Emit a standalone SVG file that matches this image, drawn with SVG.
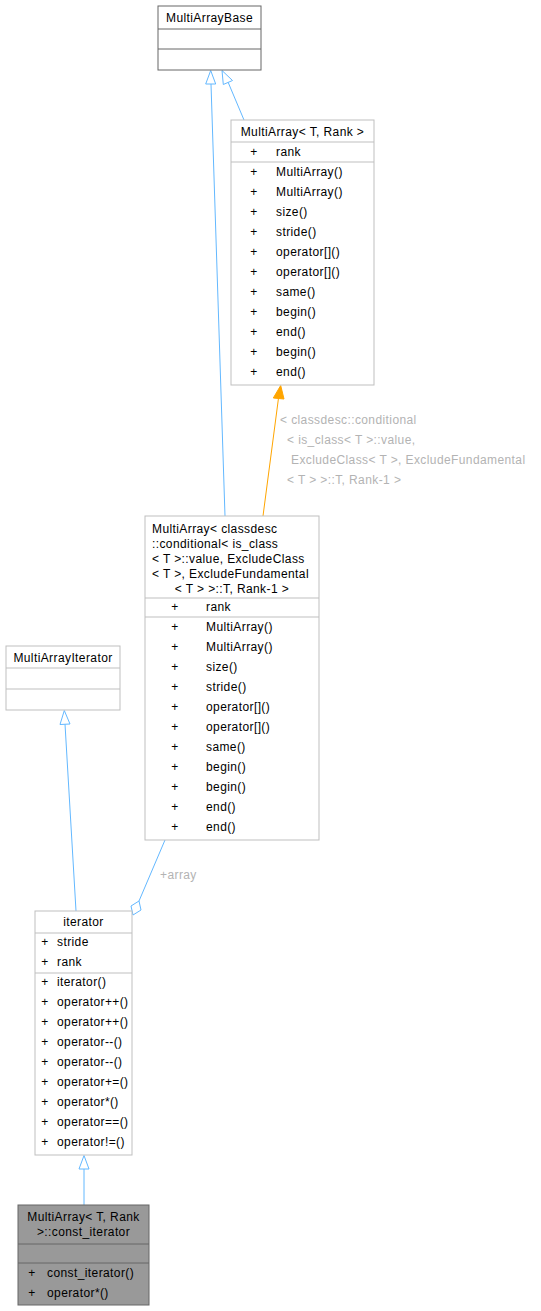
<svg xmlns="http://www.w3.org/2000/svg" width="541" height="1311" viewBox="0 0 541 1311">
<style>
text{font-family:"Liberation Sans",Arial,Helvetica,sans-serif;font-size:12px;letter-spacing:0.4px;fill:#000}
.box{fill:#fff;stroke:#bfbfbf;stroke-width:1}
.dark{fill:#fff;stroke:#666;stroke-width:1}
.cur{fill:#999;stroke:#666;stroke-width:1}
.sep{stroke:#bfbfbf;stroke-width:1}
.sepd{stroke:#666;stroke-width:1}
.c{text-anchor:middle}
.lbl{fill:#b3b3b3}
.inh{stroke:#63b8ff;stroke-width:1;fill:none}
.tpl{stroke:#ffa500;stroke-width:1;fill:none}
</style>
<g id="connectors">
<line class="inh" x1="225" y1="516" x2="211" y2="84"/>
<path d="M210.7,70.5 L215.7,84 L205.7,84 Z" fill="#fff" stroke="#63b8ff"/>
<line class="inh" x1="244" y1="120" x2="228" y2="82"/>
<path d="M222,70.5 L232.5,80.5 L223.3,84.5 Z" fill="#fff" stroke="#63b8ff"/>
<line class="tpl" x1="263" y1="516" x2="278.5" y2="398"/>
<path d="M280.7,385.5 L284,399 L273.3,398 Z" fill="#ffa500" stroke="#ffa500"/>
<line class="inh" x1="76" y1="911" x2="65" y2="724"/>
<path d="M64.3,710.5 L70,724 L60,724.5 Z" fill="#fff" stroke="#63b8ff"/>
<line class="inh" x1="84" y1="1205" x2="84" y2="1169"/>
<path d="M84,1155.5 L89,1169 L79,1169 Z" fill="#fff" stroke="#63b8ff"/>
<line class="inh" x1="165" y1="840" x2="139" y2="901"/>
<path d="M139,901 L141,910 L133,915 L131,906 Z" fill="#fff" stroke="#63b8ff"/>
<text class="lbl" x="280" y="424">&lt; classdesc::conditional</text>
<text class="lbl" x="287" y="444">&lt; is_class&lt; T &gt;::value,</text>
<text class="lbl" x="291" y="464">ExcludeClass&lt; T &gt;, ExcludeFundamental</text>
<text class="lbl" x="287" y="484">&lt; T &gt; &gt;::T, Rank-1 &gt;</text>
<text class="lbl" x="160" y="879">+array</text>
</g>
<g id="MultiArrayBase">
<rect class="dark" x="158" y="6" width="103" height="64"/>
<line class="sepd" x1="158" y1="29" x2="261" y2="29"/>
<line class="sepd" x1="158" y1="49" x2="261" y2="49"/>
<text class="c" x="209.5" y="22">MultiArrayBase</text>
</g>
<g id="MultiArrayTRank">
<rect class="box" x="231" y="120" width="143" height="265"/>
<line class="sep" x1="231" y1="142" x2="374" y2="142"/>
<line class="sep" x1="231" y1="162" x2="374" y2="162"/>
<text class="c" x="302.5" y="135.5">MultiArray&lt; T, Rank &gt;</text>
<text class="c" x="254" y="156">+</text><text x="276" y="156">rank</text>
<text class="c" x="254" y="176">+</text><text x="276" y="176">MultiArray()</text>
<text class="c" x="254" y="196">+</text><text x="276" y="196">MultiArray()</text>
<text class="c" x="254" y="216">+</text><text x="276" y="216">size()</text>
<text class="c" x="254" y="236">+</text><text x="276" y="236">stride()</text>
<text class="c" x="254" y="256">+</text><text x="276" y="256">operator[]()</text>
<text class="c" x="254" y="276">+</text><text x="276" y="276">operator[]()</text>
<text class="c" x="254" y="296">+</text><text x="276" y="296">same()</text>
<text class="c" x="254" y="316">+</text><text x="276" y="316">begin()</text>
<text class="c" x="254" y="336">+</text><text x="276" y="336">end()</text>
<text class="c" x="254" y="356">+</text><text x="276" y="356">begin()</text>
<text class="c" x="254" y="376">+</text><text x="276" y="376">end()</text>
</g>
<g id="MultiArrayClassdesc">
<rect class="box" x="145" y="516" width="174" height="324"/>
<line class="sep" x1="145" y1="598" x2="319" y2="598"/>
<line class="sep" x1="145" y1="617" x2="319" y2="617"/>
<text x="152" y="532.5">MultiArray&lt; classdesc</text>
<text x="152" y="547.5">::conditional&lt; is_class</text>
<text x="152" y="562.5">&lt; T &gt;::value, ExcludeClass</text>
<text x="152" y="577.5">&lt; T &gt;, ExcludeFundamental</text>
<text class="c" x="232" y="592.5">&lt; T &gt; &gt;::T, Rank-1 &gt;</text>
<text class="c" x="175" y="611">+</text><text x="206" y="611">rank</text>
<text class="c" x="175" y="631">+</text><text x="206" y="631">MultiArray()</text>
<text class="c" x="175" y="651">+</text><text x="206" y="651">MultiArray()</text>
<text class="c" x="175" y="671">+</text><text x="206" y="671">size()</text>
<text class="c" x="175" y="691">+</text><text x="206" y="691">stride()</text>
<text class="c" x="175" y="711">+</text><text x="206" y="711">operator[]()</text>
<text class="c" x="175" y="731">+</text><text x="206" y="731">operator[]()</text>
<text class="c" x="175" y="751">+</text><text x="206" y="751">same()</text>
<text class="c" x="175" y="771">+</text><text x="206" y="771">begin()</text>
<text class="c" x="175" y="791">+</text><text x="206" y="791">begin()</text>
<text class="c" x="175" y="811">+</text><text x="206" y="811">end()</text>
<text class="c" x="175" y="831">+</text><text x="206" y="831">end()</text>
</g>
<g id="MultiArrayIterator">
<rect class="box" x="6" y="646" width="114" height="64"/>
<line class="sep" x1="6" y1="668" x2="120" y2="668"/>
<line class="sep" x1="6" y1="689" x2="120" y2="689"/>
<text class="c" x="63" y="661.5">MultiArrayIterator</text>
</g>
<g id="iterator">
<rect class="box" x="35" y="911" width="97" height="244"/>
<line class="sep" x1="35" y1="933" x2="132" y2="933"/>
<line class="sep" x1="35" y1="973" x2="132" y2="973"/>
<text class="c" x="83.5" y="926">iterator</text>
<text class="c" x="45" y="946">+</text><text x="57" y="946">stride</text>
<text class="c" x="45" y="966">+</text><text x="57" y="966">rank</text>
<text class="c" x="45" y="986">+</text><text x="57" y="986">iterator()</text>
<text class="c" x="45" y="1006">+</text><text x="57" y="1006">operator++()</text>
<text class="c" x="45" y="1026">+</text><text x="57" y="1026">operator++()</text>
<text class="c" x="45" y="1046">+</text><text x="57" y="1046">operator--()</text>
<text class="c" x="45" y="1066">+</text><text x="57" y="1066">operator--()</text>
<text class="c" x="45" y="1086">+</text><text x="57" y="1086">operator+=()</text>
<text class="c" x="45" y="1106">+</text><text x="57" y="1106">operator*()</text>
<text class="c" x="45" y="1126">+</text><text x="57" y="1126">operator==()</text>
<text class="c" x="45" y="1146">+</text><text x="57" y="1146">operator!=()</text>
</g>
<g id="const_iterator">
<rect class="cur" x="18" y="1205" width="131" height="100"/>
<line class="sepd" x1="18" y1="1244" x2="149" y2="1244"/>
<line class="sepd" x1="18" y1="1263" x2="149" y2="1263"/>
<text class="c" x="83.5" y="1221">MultiArray&lt; T, Rank</text>
<text class="c" x="83.5" y="1236">&gt;::const_iterator</text>
<text class="c" x="32" y="1277">+</text><text x="47" y="1277">const_iterator()</text>
<text class="c" x="32" y="1297">+</text><text x="47" y="1297">operator*()</text>
</g>
</svg>
